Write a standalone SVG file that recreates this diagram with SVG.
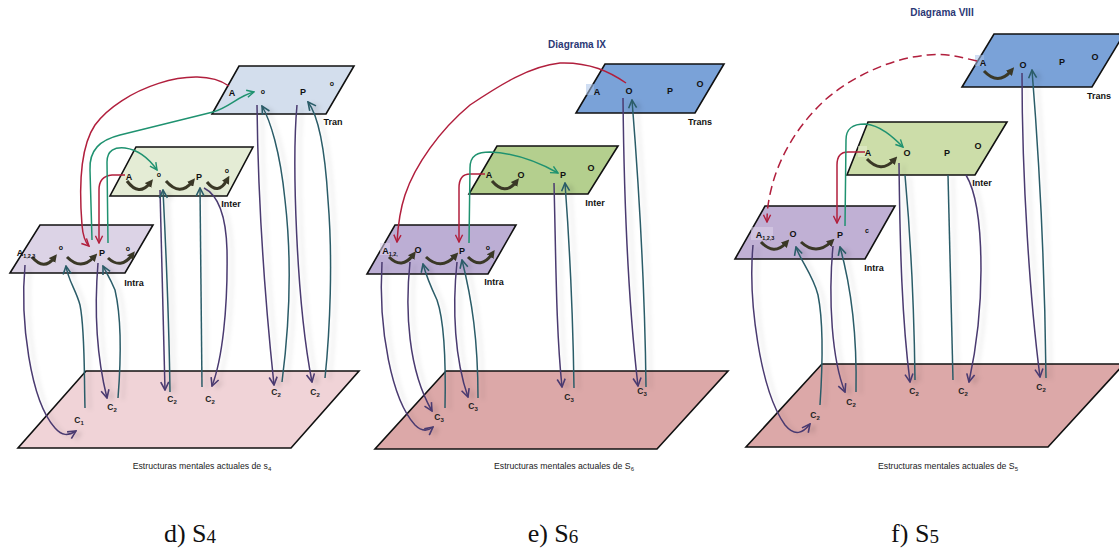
<svg xmlns="http://www.w3.org/2000/svg" width="1119" height="550" viewBox="0 0 1119 550">
<style>
.pl{stroke:#111;stroke-width:1.6;stroke-linejoin:miter}
.lb{font-family:"Liberation Sans",Arial,sans-serif;font-weight:bold;font-size:9px;fill:#111;text-anchor:middle}
.sm{font-size:7px}
.nm{font-family:"Liberation Sans",Arial,sans-serif;font-weight:bold;font-size:8.5px;fill:#222;text-anchor:middle}
.cap{font-family:"Liberation Sans",Arial,sans-serif;font-size:8.7px;fill:#222;text-anchor:middle}
.ttl{font-family:"Liberation Sans",Arial,sans-serif;font-weight:bold;font-size:10px;fill:#2b3875;text-anchor:middle}
.big{font-family:"Liberation Serif","Times New Roman",serif;font-size:26px;fill:#111;text-anchor:middle}
.r{fill:none;stroke:#b11f3d;stroke-width:1.5;marker-end:url(#mr)}
.g{fill:none;stroke:#1f9270;stroke-width:1.5;marker-end:url(#mg)}
.p{fill:none;stroke:#4a3a70;stroke-width:1.5;marker-end:url(#mp)}
.t{fill:none;stroke:#2b5c68;stroke-width:1.5;marker-end:url(#mt)}
.tn{fill:none;stroke:#2b5c68;stroke-width:1.5}
.a{fill:none;stroke:#3a3826;stroke-width:3;marker-end:url(#ma)}
.hl{opacity:0.55}
</style>
<defs>
<marker id="mr" viewBox="0 0 10 10" refX="9" refY="5" markerWidth="9" markerHeight="9" markerUnits="userSpaceOnUse" orient="auto"><path d="M1,1 L9,5 L1,9" fill="none" stroke="#b11f3d" stroke-width="1.6"/></marker>
<marker id="mg" viewBox="0 0 10 10" refX="9" refY="5" markerWidth="9" markerHeight="9" markerUnits="userSpaceOnUse" orient="auto"><path d="M1,1 L9,5 L1,9" fill="none" stroke="#1f9270" stroke-width="1.6"/></marker>
<marker id="mp" viewBox="0 0 10 10" refX="9" refY="5" markerWidth="10" markerHeight="10" markerUnits="userSpaceOnUse" orient="auto"><path d="M1,1 L9,5 L1,9" fill="none" stroke="#4a3a70" stroke-width="1.6"/></marker>
<marker id="mt" viewBox="0 0 10 10" refX="9" refY="5" markerWidth="10" markerHeight="10" markerUnits="userSpaceOnUse" orient="auto"><path d="M1,1 L9,5 L1,9" fill="none" stroke="#2b5c68" stroke-width="1.6"/></marker>
<marker id="ma" viewBox="0 0 10 10" refX="4" refY="5" markerWidth="8" markerHeight="8" markerUnits="userSpaceOnUse" orient="auto"><path d="M0,0 L10,5 L0,10 Z" fill="#3a3826"/></marker>
<filter id="sh" x="-20%" y="-5%" width="160%" height="110%"><feDropShadow dx="5" dy="2" stdDeviation="2.2" flood-color="#000" flood-opacity="0.13"/></filter>
</defs>

<!-- Panel d -->
<g id="d-base"><polygon class="pl" points="86,371 359,371 291,448 18,448" fill="#f0d3d7"/></g>
<g id="d-tran"><polygon class="pl" points="239,66 354,66 326,114 212,114" fill="#d3deed"/></g>
<g id="d-inter"><polygon class="pl" points="136,147 253,147 227,196 110,196" fill="#e4ecd5"/></g>
<g id="d-intra"><polygon class="pl" points="40,225 153,225 125,273 10,273" fill="#dcd3e6"/></g>

<!-- Panel e -->
<g id="e-base"><polygon class="pl" points="446,371 728,371 657,449 375,449" fill="#dca8a8"/></g>
<g id="e-trans"><polygon class="pl" points="605,64 724,64 695,113 576,113" fill="#7aa2d8"/><rect x="586" y="84" width="8" height="11" fill="#a9c3ea" class="hl"/></g>
<g id="e-inter"><polygon class="pl" points="497,146 618,146 588,194 469,194" fill="#b4cf8e"/></g>
<g id="e-intra"><polygon class="pl" points="395,225 516,225 488,274 367,274" fill="#bcaed4"/><rect x="380" y="243" width="10" height="12" fill="#e0d6ee" class="hl"/></g>

<!-- Panel f -->
<g id="f-base"><polygon class="pl" points="822,364 1124,364 1048,447 746,447" fill="#dca8a8"/></g>
<g id="f-trans"><polygon class="pl" points="994,34 1124,34 1092,87 962,87" fill="#7aa2d8"/><rect x="975" y="55" width="9" height="11" fill="#a9c3ea" class="hl"/></g>
<g id="f-inter"><polygon class="pl" points="868,122 1007,122 975,175 847,175" fill="#ccdda9"/><rect x="858" y="146" width="9" height="11" fill="#e6efd2" class="hl"/></g>
<g id="f-intra"><polygon class="pl" points="765,206 895,206 865,259 735,259" fill="#c0b0d4"/><rect x="751" y="227" width="22" height="13" fill="#ddd3ea" class="hl"/></g>

<g id="connectors">
<g filter="url(#sh)">
<!-- d verticals -->
<path class="p" d="M25,265 C20,320 30,400 55,428 C62,436 68,436 76,431"/>
<path class="t" d="M85,408 C84,370 85,330 80,305 C76,290 68,280 66,266"/>
<path class="p" d="M98,263 C95,300 95,350 107,398"/>
<path class="t" d="M118,398 C121,360 122,320 115,290 C110,278 106,272 103,266"/>
<path class="p" d="M160,190 C162,260 163,330 165,390"/>
<path class="t" d="M170,392 C169,320 166,250 163,190"/>
<path class="t" d="M202,387 L200,188"/>
<path class="p" d="M204,188 C218,195 226,215 227,250 C228,310 222,360 212,386"/>
<path class="p" d="M257,105 C258,200 265,300 274,385"/>
<path class="t" d="M282,382 C290,320 292,260 285,200 C280,150 270,120 262,106"/>
<path class="p" d="M297,105 C292,160 296,300 312,382"/>
<path class="t" d="M325,378 C330,330 333,260 328,200 C325,150 318,115 308,102"/>
<!-- e verticals -->
<path class="p" d="M382,262 C378,330 392,400 415,425 C422,432 428,431 433,427"/>
<path class="p" d="M410,262 C405,310 408,370 432,411"/>
<path class="t" d="M445,408 C446,360 444,320 437,300 C430,285 426,275 423,264"/>
<path class="p" d="M457,262 C452,310 455,360 468,397"/>
<path class="t" d="M478,398 C478,340 472,300 462,260"/>
<path class="p" d="M554,183 C556,260 556,330 562,387"/>
<path class="t" d="M574,388 C573,320 570,250 565,183"/>
<path class="p" d="M623,98 C624,200 628,300 638,386"/>
<path class="t" d="M646,387 C645,300 640,200 632,100"/>
<!-- f verticals -->
<path class="p" d="M753,245 C748,300 760,390 785,425 C795,437 803,433 810,424"/>
<path class="t" d="M820,405 C823,360 823,320 818,295 C813,275 800,260 796,247"/>
<path class="p" d="M833,246 C828,300 832,360 845,392"/>
<path class="t" d="M856,392 C857,340 852,290 840,247"/>
<path class="p" d="M899,163 C900,250 902,320 910,382"/>
<path class="tn" d="M915,380 C914,300 910,230 905,175"/>
<path class="tn" d="M953,380 L948,175"/>
<path class="p" d="M966,175 C975,190 981,220 981,270 C981,310 977,345 969,382"/>
<path class="p" d="M1022,73 C1022,180 1030,300 1040,377"/>
<path class="t" d="M1046,378 C1045,280 1040,170 1032,70"/>
</g>
<!-- d red/green -->
<path class="r" d="M229,86 C195,62 120,90 95,125 C78,150 80,200 82,225 C83,238 86,243 89,246"/>
<path class="r" d="M125,175 L112,175 Q99,176 99,190 L99,243"/>
<path class="g" d="M92,240 L90,170 C89,150 100,140 120,135 L213,112 C230,107 238,96 254,92"/>
<path class="g" d="M108,243 L107,162 C107,150 115,147 125,148 C140,150 150,160 157,170"/>
<!-- e red/green -->
<path class="r" d="M626,83 C610,72 590,62 560,63 C530,66 500,85 470,105 C440,130 415,165 405,195 C400,210 398,225 397,242"/>
<path class="r" d="M485,174 L470,174 Q459,174 459,188 L459,242"/>
<path class="g" d="M469,243 L470,168 C470,155 478,152 490,152 C515,153 540,163 558,173"/>
<!-- f red/green -->
<path class="r" stroke-dasharray="9,5" d="M977,61 C960,57 945,53 928,55 C890,58 850,78 825,100 C795,128 778,160 771,190 C768,202 767,212 767,222"/>
<path class="r" d="M865,152 L848,152 Q837,152 837,165 L837,223"/>
<path class="g" d="M845,226 L846,140 C846,128 853,124 865,124 C880,125 893,137 903,147"/>
<!-- small cycle arrows -->
<path class="a" d="M127,181 Q139,197 150,183"/>
<path class="a" d="M166,181 Q180,197 192,182"/>
<path class="a" d="M207,182 Q218,196 227,180"/>
<path class="a" d="M32,257 Q44,271 54,258"/>
<path class="a" d="M67,257 Q81,271 94,257"/>
<path class="a" d="M108,258 Q121,270 132,255"/>
<path class="a" d="M492,181 Q505,196 516,182"/>
<path class="a" d="M389,257 Q402,270 413,255"/>
<path class="a" d="M426,257 Q441,271 455,256"/>
<path class="a" d="M468,257 Q481,270 492,254"/>
<path class="a" d="M984,71 Q998,86 1011,71"/>
<path class="a" d="M867,159 Q881,174 894,160"/>
<path class="a" d="M761,242 Q774,256 786,243"/>
<path class="a" d="M801,242 Q816,256 831,242"/>
</g>

<!-- Labels d -->
<g id="d-labels">
<text class="lb" x="232" y="96">A</text><text class="lb sm" x="263" y="94">o</text><text class="lb" x="303" y="95">P</text><text class="lb sm" x="332" y="86">o</text>
<text class="lb" x="333" y="125">Tran</text>
<text class="lb" x="129" y="180">A</text><text class="lb sm" x="159" y="177">o</text><text class="lb" x="199" y="180">P</text><text class="lb sm" x="227" y="173">o</text>
<text class="lb" x="231" y="207">Inter</text>
<text class="lb" x="26" y="256">A<tspan font-size="5.5" dy="2">1,2,3</tspan></text><text class="lb sm" x="61" y="250">o</text><text class="lb" x="102" y="256">P</text><text class="lb sm" x="128" y="251">o</text>
<text class="lb" x="134" y="286">Intra</text>
<text class="nm" x="79" y="423">C<tspan font-size="6" dy="2">1</tspan></text>
<text class="nm" x="112" y="410">C<tspan font-size="6" dy="2">2</tspan></text>
<text class="nm" x="172" y="402">C<tspan font-size="6" dy="2">2</tspan></text>
<text class="nm" x="210" y="402">C<tspan font-size="6" dy="2">2</tspan></text>
<text class="nm" x="276" y="395">C<tspan font-size="6" dy="2">2</tspan></text>
<text class="nm" x="315" y="395">C<tspan font-size="6" dy="2">2</tspan></text>
<text class="cap" x="202" y="469">Estructuras mentales actuales de s<tspan font-size="6" dy="2">4</tspan></text>
</g>

<!-- Labels e -->
<g id="e-labels">
<text class="ttl" x="577" y="48">Diagrama IX</text>
<text class="lb" x="597" y="95">A</text><text class="lb" x="629" y="94">O</text><text class="lb" x="670" y="94">P</text><text class="lb" x="700" y="87">O</text>
<text class="lb" x="700" y="125">Trans</text>
<text class="lb" x="489" y="178">A</text><text class="lb" x="521" y="178">O</text><text class="lb" x="563" y="178">P</text><text class="lb" x="591" y="171">O</text>
<text class="lb" x="595" y="206">Inter</text>
<text class="lb" x="390" y="254">A<tspan font-size="5.5" dy="2">1,2,</tspan></text><text class="lb" x="418" y="253">O</text><text class="lb" x="462" y="254">P</text><text class="lb sm" x="488" y="250">o</text>
<text class="lb" x="494" y="285">Intra</text>
<text class="nm" x="439" y="420">C<tspan font-size="6" dy="2">3</tspan></text>
<text class="nm" x="473" y="409">C<tspan font-size="6" dy="2">3</tspan></text>
<text class="nm" x="569" y="400">C<tspan font-size="6" dy="2">3</tspan></text>
<text class="nm" x="642" y="394">C<tspan font-size="6" dy="2">3</tspan></text>
<text class="cap" x="564" y="469">Estructuras mentales actuales de S<tspan font-size="6" dy="2">6</tspan></text>
</g>

<!-- Labels f -->
<g id="f-labels">
<text class="ttl" x="942" y="16">Diagrama VIII</text>
<text class="lb" x="983" y="66">A</text><text class="lb" x="1023" y="68">O</text><text class="lb" x="1062" y="65">P</text><text class="lb" x="1095" y="60">O</text>
<text class="lb" x="1099" y="99">Trans</text>
<text class="lb" x="868" y="156">A</text><text class="lb" x="907" y="156">O</text><text class="lb" x="947" y="156">P</text><text class="lb" x="978" y="149">O</text>
<text class="lb" x="982" y="186">Inter</text>
<text class="lb" x="765" y="238">A<tspan font-size="5.5" dy="2">1,2,3</tspan></text><text class="lb" x="793" y="237">O</text><text class="lb" x="840" y="238">P</text><text class="lb sm" x="867" y="233">c</text>
<text class="lb" x="874" y="271">Intra</text>
<text class="nm" x="815" y="418">C<tspan font-size="6" dy="2">2</tspan></text>
<text class="nm" x="851" y="405">C<tspan font-size="6" dy="2">2</tspan></text>
<text class="nm" x="914" y="394">C<tspan font-size="6" dy="2">2</tspan></text>
<text class="nm" x="963" y="394">C<tspan font-size="6" dy="2">2</tspan></text>
<text class="nm" x="1041" y="390">C<tspan font-size="6" dy="2">2</tspan></text>
<text class="cap" x="948" y="469">Estructuras mentales actuales de S<tspan font-size="6" dy="2">5</tspan></text>
</g>

<g id="captions">
<text class="big" x="190" y="542">d) S<tspan font-size="19" dy="1">4</tspan></text>
<text class="big" x="553" y="542">e) S<tspan font-size="19" dy="1">6</tspan></text>
<text class="big" x="915" y="542">f) S<tspan font-size="19" dy="1">5</tspan></text>
</g>
</svg>
